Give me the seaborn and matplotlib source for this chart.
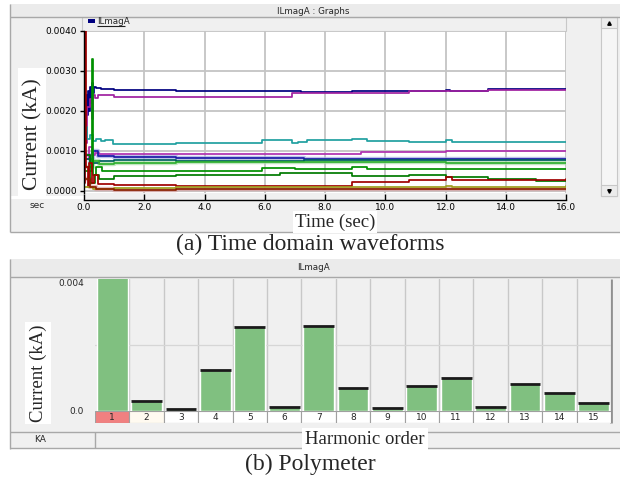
import matplotlib
matplotlib.use("Agg")
import matplotlib.pyplot as plt
import numpy as np
import pandas as pd
import seaborn as sns
from matplotlib.patches import Rectangle

# ---------------- data: time-domain harmonic magnitudes (kA) ----------------
navy_t = [0, 0.05, 0.1, 0.13, 0.16, 0.2, 0.23, 0.27, 0.3, 0.34, 0.4, 0.55, 1.0, 3.05, 7.2, 7.6, 8.9, 12.0, 12.15, 13.4, 16]
navy_v = [0.0016, 0.0024, 0.0019, 0.0025, 0.0020, 0.0026, 0.0022, 0.0027, 0.00245, 0.0026, 0.00258, 0.00255, 0.00252,
          0.0025, 0.00247, 0.00248, 0.0025, 0.00252, 0.0025, 0.00254, 0.00254]

purple_t = [0, 0.1, 0.2, 0.25, 0.3, 0.35, 0.45, 1.0, 3.05, 5.6, 6.9, 7.3, 9.0, 10.8, 13.4, 16]
purple_v = [0.0012, 0.0021, 0.0023, 0.0018, 0.0024, 0.00232, 0.0024, 0.00235, 0.00235, 0.00236, 0.00244, 0.00245,
            0.00246, 0.0025, 0.00253, 0.00253]

teal_t = [0, 0.1, 0.2, 0.3, 0.4, 0.55, 0.7, 0.95, 3.05, 5.9, 6.9, 7.1, 7.4, 8.9, 9.4, 10.8, 12.0, 12.2, 13.4, 16]
teal_v = [0.0016, 0.0013, 0.0014, 0.00125, 0.0013, 0.00126, 0.00128, 0.00118, 0.00121, 0.00127, 0.0012, 0.00123,
          0.00127, 0.0013, 0.00125, 0.00122, 0.00127, 0.00123, 0.00122, 0.00122]

violet_t = [0, 0.15, 0.25, 0.35, 0.5, 1.0, 9.2, 12.0, 16]
violet_v = [0.0008, 0.0011, 0.0009, 0.00095, 0.00092, 0.00093, 0.00098, 0.001, 0.001]

blue_t = [0, 0.2, 0.3, 0.45, 1.0, 3.05, 7.3, 13.4, 16]
blue_v = [0.0009, 0.0007, 0.001, 0.00088, 0.00086, 0.00082, 0.00079, 0.00081, 0.00081]

dteal_t = [0, 0.3, 0.5, 1.0, 3.05, 7.3, 16]
dteal_v = [0.0008, 0.0007, 0.00076, 0.00078, 0.00075, 0.00077, 0.00077]

lgreen_t = [0, 0.3, 0.5, 1.0, 3.05, 5.9, 12.0, 16]
lgreen_v = [0.0006, 0.00075, 0.00068, 0.0007, 0.00072, 0.00073, 0.00071, 0.00071]

green_t = [0, 0.25, 0.29, 0.4, 0.6, 1.0, 3.05, 5.9, 7.0, 8.9, 9.4, 12.0, 16]
green_v = [0.0005, 0.0033, 0.0004, 0.0006, 0.0005, 0.00049, 0.0005, 0.00058, 0.00056, 0.0006, 0.00056, 0.00055, 0.00055]

dgreen_t = [0, 0.2, 0.35, 0.5, 1.0, 3.05, 6.5, 8.9, 10.8, 12.0, 13.4, 15.0, 16]
dgreen_v = [0.0009, 0.0002, 0.0004, 0.0003, 0.00038, 0.0004, 0.00045, 0.00037, 0.0004, 0.00036, 0.00031, 0.00025, 0.00025]

red_t = [0, 0.03, 0.07, 0.12, 0.18, 0.25, 0.33, 0.45, 1.0, 3.05, 8.9, 10.8, 12.0, 12.2, 13.4, 16]
red_v = [0.0002, 0.0045, 0.0006, 0.0001, 0.0007, 0.0002, 0.0004, 0.00018, 0.00015, 0.00012, 0.00023, 0.00027,
         0.00035, 0.00028, 0.00028, 0.0003]

olive_t = [0, 0.3, 1.0, 3.05, 12.0, 12.2, 16]
olive_v = [0.0001, 0.00005, 0.00008, 0.00009, 0.00012, 0.0001, 0.00012]

brown_t = [0, 0.2, 0.4, 1.0, 3.05, 13.4, 16]
brown_v = [0.0003, 0.0001, 0.00004, 0.00003, 0.00006, 0.00006, 0.00006]

series = {
    "h5": (navy_t, navy_v, "#000080"),
    "h7": (purple_t, purple_v, "#a020a0"),
    "h4": (teal_t, teal_v, "#20a0a0"),
    "h11": (violet_t, violet_v, "#b030b0"),
    "h13": (blue_t, blue_v, "#1c1ca8"),
    "h10": (dteal_t, dteal_v, "#005f60"),
    "h8": (lgreen_t, lgreen_v, "#30b030"),
    "h14": (green_t, green_v, "#009000"),
    "h15": (dgreen_t, dgreen_v, "#007a00"),
    "h2": (red_t, red_v, "#a00000"),
    "h6": (olive_t, olive_v, "#a0a020"),
    "h3": (brown_t, brown_v, "#8b2000"),
}
# pale trace shadows drawn under some of the curves
halo = {"h13": "#9fa8e0", "h8": "#a8dca8", "h3": "#d8a0a0"}

# ---------------- data: polymeter harmonic spectrum ----------------
orders = [str(k) for k in range(1, 16)]
magnitudes = [0.0045, 0.0003, 0.00006, 0.00123, 0.00254, 0.00012, 0.00257, 0.00069, 0.00009,
              0.00077, 0.00099, 0.00012, 0.00081, 0.00054, 0.00024]
cell_colors = ["#f08080", "#fffaf0"] + ["#ffffff"] * 13

time_ticks = [0, 2, 4, 6, 8, 10, 12, 14, 16]
time_ticklabels = ["0.0", "2.0", "4.0", "6.0", "8.0", "10.0", "12.0", "14.0", "16.0"]
cur_ticks = [0, 0.001, 0.002, 0.003, 0.004]
cur_ticklabels = ["0.0000", "0.0010", "0.0020", "0.0030", "0.0040"]

# ---------------- figure setup ----------------
sns.set_style("white")
plt.rcParams["font.family"] = ["DejaVu Sans"]
W, H = 620, 480
fig = plt.figure(figsize=(W / 100, H / 100), dpi=100)
fig.patch.set_facecolor("white")


def box(x0, y0, x1, y1):
    return [x0 / W, 1 - y1 / H, (x1 - x0) / W, (y1 - y0) / H]


SERIF = ["Liberation Serif", "DejaVu Serif"]
UI = 6.5
PANEL = "#f0f0f0"
EDGE = "#a8a8a8"

bg = fig.add_axes([0, 0, 1, 1])
bg.set_xlim(0, W)
bg.set_ylim(H, 0)
bg.axis("off")


def prect(x0, y0, x1, y1, fc, ec="none", lw=0.8, z=1):
    bg.add_patch(Rectangle((x0, y0), x1 - x0, y1 - y0, facecolor=fc, edgecolor=ec, lw=lw, zorder=z))


def pline(xs, ys, c=EDGE, lw=1.0, z=2):
    bg.plot(xs, ys, color=c, lw=lw, zorder=z, solid_capstyle="butt")


# ---- top panel frame ----
prect(10, 4, 620, 232, PANEL)
prect(10, 4, 620, 17, "#ebebeb")
pline([10, 620], [17, 17])
pline([10, 620], [232, 232])
pline([10, 10], [4, 232])
prect(82, 17, 566, 31, PANEL, ec="#c8c8c8")
prect(601, 17, 617, 196, "#f6f6f6", ec="#c8c8c8")
prect(601, 17, 617, 28, "#ececec", ec="#c8c8c8")
prect(601, 185, 617, 196, "#ececec", ec="#c8c8c8")
bg.plot(609, 22.5, marker="^", ms=2.5, color="k", zorder=3)
bg.plot(609, 190.5, marker="v", ms=2.5, color="k", zorder=3)
prect(10, 196, 84, 199, "white")
bg.text(313, 11, "ILmagA : Graphs", ha="center", va="center", fontsize=6.3, zorder=3)
prect(88, 19, 95, 22.5, "#000080", z=3)
bg.text(97, 21, "ILmagA", ha="left", va="center", fontsize=6.3, zorder=3)
pline([97, 125], [26, 26], c="#202020", lw=0.8, z=3)
bg.text(37, 205, "sec", ha="center", va="center", fontsize=UI, zorder=3)
prect(18, 68, 46, 199, "white", z=2)
bg.text(33, 134, "Current (kA)", rotation=90, ha="center", va="center", fontsize=15.5, family=SERIF, zorder=3)
bg.text(335, 222, "Time (sec)", ha="center", va="center", fontsize=13.5, family=SERIF, zorder=3,
        bbox=dict(facecolor="white", edgecolor="none", pad=1.5))
bg.text(310, 244, "(a) Time domain waveforms", ha="center", va="center", fontsize=17, family=SERIF, zorder=3)

# ---- bottom panel frame ----
prect(10, 259, 620, 449, PANEL)
prect(10, 259, 620, 277, "#ebebeb")
pline([10, 620], [277, 277])
pline([10, 620], [432, 432])
pline([10, 620], [448, 448])
pline([10, 10], [259, 449])
pline([95, 95], [432, 448])
pline([611, 611], [279, 423], c="#909090", lw=2)
bg.text(313, 268, "ILmagA", ha="center", va="center", fontsize=6.3, zorder=3)
bg.text(40, 440, "KA", ha="center", va="center", fontsize=UI, zorder=3)
prect(25, 322, 51, 424, "white", z=2)
bg.text(38, 373, "Current (kA)", rotation=90, ha="center", va="center", fontsize=13.5, family=SERIF, zorder=3)
bg.text(365, 439, "Harmonic order", ha="center", va="center", fontsize=13.5, family=SERIF, zorder=3,
        bbox=dict(facecolor="white", edgecolor="none", pad=2))
bg.text(310, 464, "(b) Polymeter", ha="center", va="center", fontsize=17, family=SERIF, zorder=3)

# ---------------- time-domain plot ----------------
axt = fig.add_axes(box(84, 31, 566, 193))
axt.set_facecolor("white")
rows = []
for name, (ts, vs, col) in series.items():
    rows.append(pd.DataFrame({"t": ts, "I": vs, "series": name}))
df = pd.concat(rows, ignore_index=True)
palette = {name: spec[2] for name, spec in series.items()}
halo_df = df[df["series"].isin(list(halo))]
sns.lineplot(data=halo_df, x="t", y="I", hue="series", palette=halo, estimator=None, sort=False,
             drawstyle="steps-post", lw=3.2, alpha=0.7, legend=False, ax=axt)
sns.lineplot(data=df, x="t", y="I", hue="series", palette=palette, estimator=None, sort=False,
             drawstyle="steps-post", lw=1.25, legend=False, ax=axt)
axt.set_xlim(0, 16)
axt.set_ylim(-0.00005, 0.004)
axt.set_xticks(time_ticks)
axt.set_xticklabels(time_ticklabels)
axt.set_yticks(cur_ticks)
axt.set_yticklabels(cur_ticklabels)
axt.grid(True, color="#c4c4c4", lw=1.3)
axt.set_axisbelow(True)
axt.set_xlabel("")
axt.set_ylabel("")
for s in ["top", "right"]:
    axt.spines[s].set_visible(False)
axt.spines["left"].set_color("black")
axt.spines["left"].set_linewidth(1.0)
axt.spines["bottom"].set_position(("outward", 5))
axt.spines["bottom"].set_color("black")
axt.spines["bottom"].set_linewidth(1.0)
axt.tick_params(axis="x", direction="in", length=4, width=1, labelsize=UI, pad=2, colors="black", bottom=True)
axt.tick_params(axis="y", direction="out", length=3, width=1, labelsize=UI, pad=2, colors="black", left=True)

# ---------------- polymeter bars ----------------
axb = fig.add_axes(box(95, 279, 611, 411))
axb.set_facecolor(PANEL)
for k in range(15):
    axb.axvline(k + 0.5, color="#c8c8c8", lw=1.0, zorder=0)
axb.axhline(0.002, color="#d6d6d6", lw=0.9, zorder=0)
sns.barplot(x=orders, y=magnitudes, order=orders, color="#80c080", saturation=1, width=0.9, ax=axb, zorder=2)
pos = np.arange(len(orders))
axb.hlines(magnitudes, pos - 0.45, pos + 0.45, color="#1a1a1a", lw=2.0, zorder=3)
axb.set_xlim(-0.5, 14.5)
axb.set_ylim(0, 0.004)
axb.set_xticks([])
axb.set_yticks([0, 0.004])
axb.set_yticklabels(["0.0", "0.004"])
axb.tick_params(axis="y", length=0, labelsize=UI, pad=8)
for lbl in axb.get_yticklabels():
    lbl.set_verticalalignment("top" if lbl.get_text() == "0.004" else "center")
axb.set_xlabel("")
axb.set_ylabel("")
for s in axb.spines.values():
    s.set_visible(False)

axl = fig.add_axes(box(95, 411, 611, 423))
axl.set_xlim(-0.5, 14.5)
axl.set_ylim(0, 1)
axl.axis("off")
for k, (lab, cc) in enumerate(zip(orders, cell_colors)):
    axl.add_patch(Rectangle((k - 0.5, 0), 1, 1, facecolor=cc, edgecolor="#a0a0a0", lw=0.8))
    axl.text(k, 0.45, lab, ha="center", va="center", fontsize=UI)

fig.savefig("out.png", dpi=100)
